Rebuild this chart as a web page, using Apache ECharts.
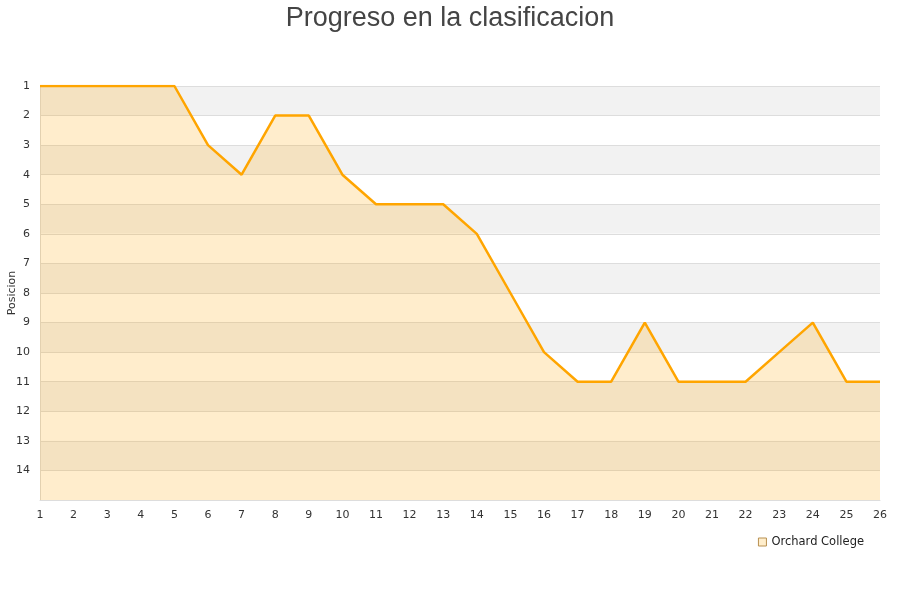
<!DOCTYPE html>
<html><head><meta charset="utf-8">
<script src="https://cdn.jsdelivr.net/npm/echarts@6/dist/echarts.min.js"></script>
<style>html,body{margin:0;padding:0;background:#fff}#c{width:900px;height:600px}</style>
</head><body><div id="c"></div>
<script>
const jornadas = [1,2,3,4,5,6,7,8,9,10,11,12,13,14,15,16,17,18,19,20,21,22,23,24,25,26];
const posiciones = [1,1,1,1,1,3,4,2,2,4,5,5,5,6,8,10,11,11,9,11,11,11,10,9,11,11];
const seriesName = 'Orchard College';
const titleText = 'Progreso en la clasificacion';
const yName = 'Posicion';

const chart = echarts.init(document.getElementById('c'));
chart.setOption({
  animation: false,
  textStyle: {fontFamily: 'DejaVu Sans'},
  title: {text: titleText, left: 'center', top: 0,
    textStyle: {fontSize: 27, fontWeight: 'normal', color: '#444', fontFamily: 'Liberation Sans'}},
  grid: {left: 40, right: 20, top: 86, bottom: 100, containLabel: false, outerBoundsMode: 'none'},
  legend: {right: 31, top: 531, itemWidth: 8, itemHeight: 8, itemGap: 10,
    textStyle: {fontSize: 11.5, color: '#222'},
    data: [{name: seriesName, icon: 'rect', itemStyle: {color: '#ffeecc', borderColor: '#b89050', borderWidth: 1}}]},
  xAxis: {type: 'value', min: 1, max: 26, interval: 1,
    axisLine: {show: true, lineStyle: {color: '#ddd'}},
    axisTick: {show: false},
    splitLine: {show: false},
    axisLabel: {color: '#333', fontSize: 11, margin: 10}},
  yAxis: {type: 'value', inverse: true, min: 1, max: 15, interval: 1,
    name: yName, nameLocation: 'middle', nameGap: 22, nameMoveOverlap: false,
    nameTextStyle: {fontSize: 11, color: '#333'},
    axisLine: {show: true, lineStyle: {color: '#ddd'}},
    axisTick: {show: false},
    axisLabel: {color: '#333', fontSize: 11, margin: 10, formatter: v => v === 15 ? '' : v},
    splitLine: {show: true, lineStyle: {color: '#ddd'}},
    splitArea: {show: true, areaStyle: {color: ['#f2f2f2', '#ffffff']}}},
  series: [{
    name: seriesName, type: 'line',
    data: jornadas.map((j, i) => [j, posiciones[i]]),
    showSymbol: false, symbol: 'none',
    lineStyle: {color: '#ffa500', width: 2.5},
    itemStyle: {color: '#ffa500'},
    areaStyle: {color: '#ffa500', opacity: 0.2, origin: 'end'}
  }]
});
</script></body></html>
